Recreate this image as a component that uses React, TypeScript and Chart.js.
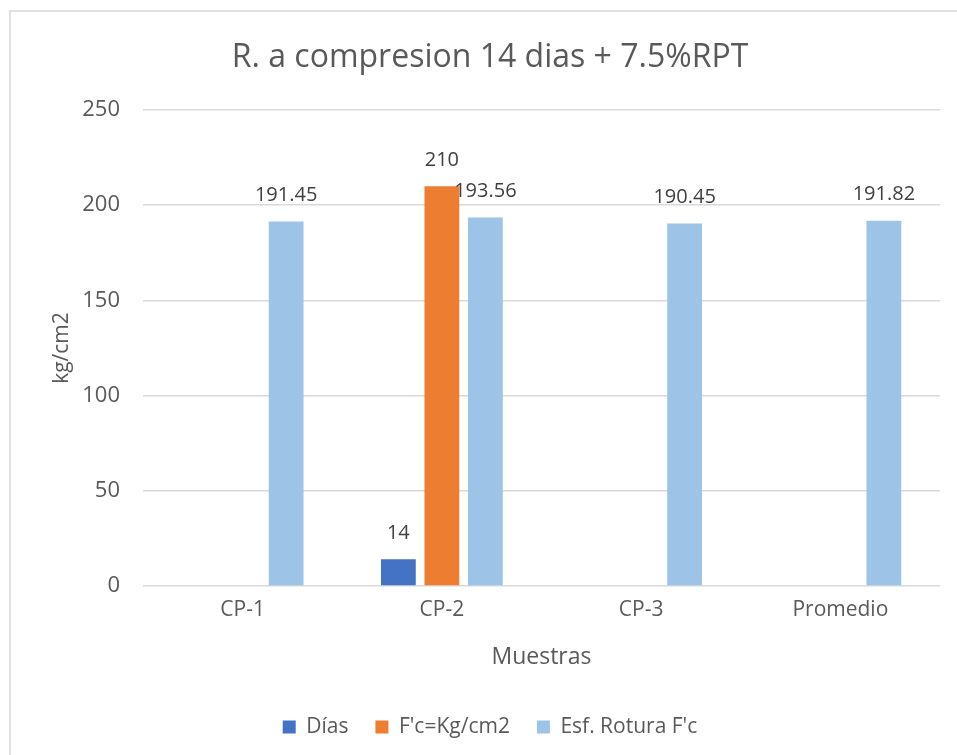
import React, { useEffect, useRef } from "react";
import { Chart, registerables } from "chart.js";

Chart.register(...registerables);

const categories = ["CP-1", "CP-2", "CP-3", "Promedio"];
const dias = [null, 14, null, null];
const fcKg = [null, 210, null, null];
const esfRotura = [191.45, 193.56, 190.45, 191.82];
const yTicks = [0, 50, 100, 150, 200, 250];

const FONT = "'Open Sans', 'Noto Sans', sans-serif";
const TEXT = "#595959";

// light frame on the left and top edges
const framePlugin = {
  id: "frame",
  beforeDraw(chart: any) {
    const { ctx, width, height } = chart;
    ctx.save();
    ctx.fillStyle = "#ffffff";
    ctx.fillRect(0, 0, width, height);
    ctx.strokeStyle = "#D9D9D9";
    ctx.lineWidth = 1.5;
    ctx.beginPath();
    ctx.moveTo(10, height);
    ctx.lineTo(10, 11);
    ctx.lineTo(width, 11);
    ctx.stroke();
    ctx.restore();
  },
};

// value labels above each bar
const valueLabels = {
  id: "valueLabels",
  afterDatasetsDraw(chart: any) {
    const { ctx } = chart;
    ctx.save();
    ctx.font = `20px ${FONT}`;
    ctx.fillStyle = "#404040";
    ctx.textAlign = "center";
    ctx.textBaseline = "middle";
    chart.data.datasets.forEach((ds: any, di: number) => {
      const meta = chart.getDatasetMeta(di);
      meta.data.forEach((el: any, i: number) => {
        const v = ds.data[i];
        if (v === null || v === undefined) return;
        ctx.fillText(String(v), el.x, el.y - 26);
      });
    });
    ctx.restore();
  },
};

export default function App() {
  const ref = useRef<HTMLCanvasElement>(null);

  useEffect(() => {
    if (!ref.current) return;
    const chart = new Chart(ref.current, {
      type: "bar",
      data: {
        labels: categories,
        datasets: [
          { label: "Días", data: dias, backgroundColor: "#4472C4" },
          { label: "F'c=Kg/cm2", data: fcKg, backgroundColor: "#ED7D31" },
          { label: "Esf. Rotura F'c", data: esfRotura, backgroundColor: "#9DC3E6" },
        ],
      },
      options: {
        responsive: false,
        animation: false,
        devicePixelRatio: 1,
        categoryPercentage: 0.655,
        barPercentage: 0.8,
        layout: { padding: { left: 40, right: 17, top: 0, bottom: 7.5 } },
        plugins: {
          title: {
            display: true,
            text: "R. a compresion 14 dias + 7.5%RPT",
            color: TEXT,
            font: { family: FONT, size: 32, weight: "normal" },
            padding: { top: 38.8, bottom: 32.8 },
          },
          legend: {
            position: "bottom",
            labels: {
              color: TEXT,
              font: { family: FONT, size: 21 },
              boxWidth: 13,
              boxHeight: 13,
              padding: 27,
            },
          },
          tooltip: { enabled: false },
        },
        scales: {
          x: {
            grid: { display: false, drawTicks: false },
            border: { display: false },
            ticks: { color: TEXT, font: { family: FONT, size: 21 }, padding: 11 },
            title: {
              display: true,
              text: "Muestras",
              color: TEXT,
              font: { family: FONT, size: 23 },
              padding: { top: 0, bottom: 18.7 },
            },
            afterFit(scale: any) {
              scale.height = 103.5;
            },
          },
          y: {
            min: 0,
            max: 250,
            afterBuildTicks(scale: any) {
              scale.ticks = yTicks.map((v) => ({ value: v }));
            },
            grid: { color: "#D9D9D9", lineWidth: 1.5, drawTicks: false },
            border: { display: false },
            ticks: { color: TEXT, font: { family: FONT, size: 22 }, padding: 23 },
            title: {
              display: true,
              text: "kg/cm2",
              color: TEXT,
              font: { family: FONT, size: 21 },
              padding: { top: 9.4, bottom: 0 },
            },
            afterFit(scale: any) {
              scale.width = 103;
            },
          },
        },
      },
      plugins: [framePlugin, valueLabels],
    });
    return () => chart.destroy();
  }, []);

  return (
    <div style={{ position: "absolute", left: 0, top: 0, width: 957, height: 755, background: "#fff" }}>
      <canvas ref={ref} width={957} height={755} />
    </div>
  );
}
